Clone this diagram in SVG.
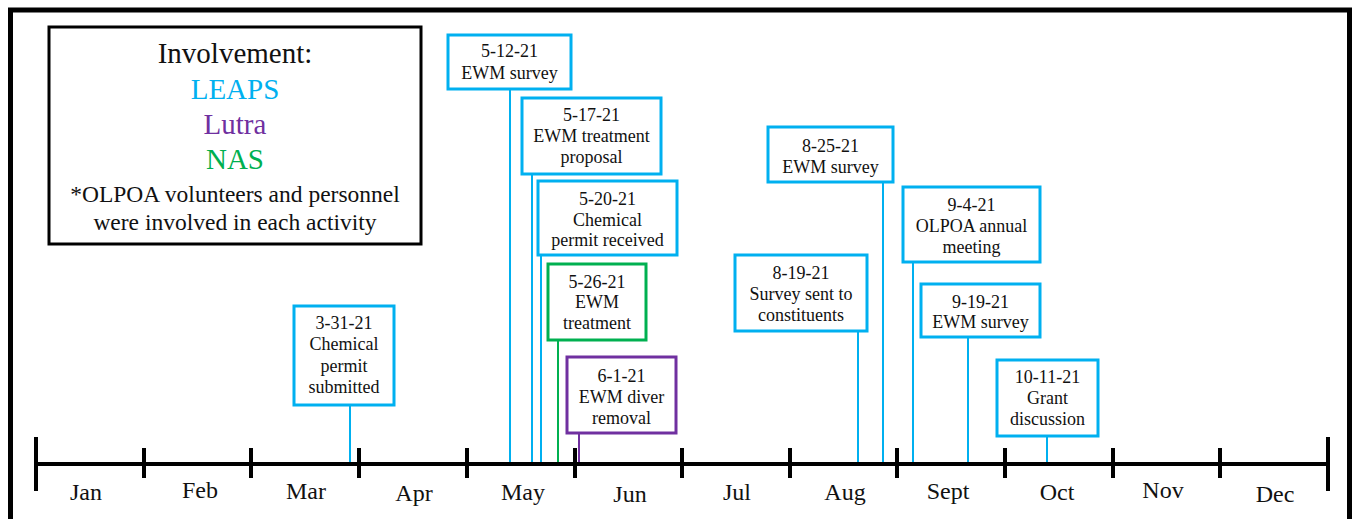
<svg xmlns="http://www.w3.org/2000/svg" width="1360" height="519" viewBox="0 0 1360 519">
<style>
.b{font-family:'Liberation Serif', serif;font-size:18px;text-anchor:middle;fill:#111}
.m{font-family:'Liberation Serif', serif;font-size:24px;text-anchor:middle;fill:#111}
.l{font-family:'Liberation Serif', serif;font-size:29px;text-anchor:middle;fill:#111}
.s{font-family:'Liberation Serif', serif;font-size:23.5px;text-anchor:middle;fill:#111}
.box{fill:#fff;stroke-width:3}
.blue{stroke:#00B0F0}
.green{stroke:#00B050}
.purple{stroke:#7030A0}
.cl{stroke-width:2}
.axis{stroke:#000;stroke-width:4;fill:none}
</style>
<rect width="1360" height="519" fill="#fff"/>
<path d="M10.5 530 V10 H1349.5 V530" fill="none" stroke="#000" stroke-width="5"/>
<g id="legend" font-family="Liberation Serif, serif">
<rect x="49" y="27" width="372" height="217" fill="#fff" stroke="#000" stroke-width="3"/>
<text class="l" x="235" y="63">Involvement:</text>
<text class="l" x="235" y="99" fill="#00B0F0" style="fill:#00B0F0">LEAPS</text>
<text class="l" x="235" y="134" fill="#7030A0" style="fill:#7030A0">Lutra</text>
<text class="l" x="235" y="169" fill="#00B050" style="fill:#00B050">NAS</text>
<text class="s" x="235" y="202">*OLPOA volunteers and personnel</text>
<text class="s" x="235" y="230">were involved in each activity</text>
</g>
<g id="connectors">
<line x1="350" y1="405" x2="350" y2="464" class="cl blue"/>
<line x1="510" y1="89" x2="510" y2="464" class="cl blue"/>
<line x1="532" y1="174" x2="532" y2="464" class="cl blue"/>
<line x1="541" y1="255" x2="541" y2="464" class="cl blue"/>
<line x1="558" y1="340" x2="558" y2="464" class="cl green"/>
<line x1="579" y1="433" x2="579" y2="464" class="cl purple"/>
<line x1="858" y1="331" x2="858" y2="464" class="cl blue"/>
<line x1="883" y1="182" x2="883" y2="466" class="cl blue"/>
<line x1="913" y1="262" x2="913" y2="464" class="cl blue"/>
<line x1="968" y1="337" x2="968" y2="464" class="cl blue"/>
<line x1="1047" y1="436" x2="1047" y2="464" class="cl blue"/>
</g>
<g id="axis" font-family="Liberation Serif, serif">
<line x1="36" y1="464" x2="1328" y2="464" class="axis"/>
<line x1="36" y1="437" x2="36" y2="491" class="axis"/>
<line x1="1328" y1="437" x2="1328" y2="491" class="axis"/>
<path class="axis" d="M144 448V478M251 448V478M359 448V478M467 448V478M575 448V478M682 448V478M790 448V478M897 448V478M1005 448V478M1113 448V478M1220 448V478"/>
<text class="m" x="86" y="500">Jan</text>
<text class="m" x="200" y="498">Feb</text>
<text class="m" x="306" y="499">Mar</text>
<text class="m" x="414" y="501">Apr</text>
<text class="m" x="523" y="500">May</text>
<text class="m" x="630" y="502">Jun</text>
<text class="m" x="737" y="500">Jul</text>
<text class="m" x="845" y="500">Aug</text>
<text class="m" x="948" y="499">Sept</text>
<text class="m" x="1057" y="500">Oct</text>
<text class="m" x="1163" y="498">Nov</text>
<text class="m" x="1275" y="502">Dec</text>
</g>
<g id="n-3-31" font-family="Liberation Serif, serif">
<rect class="box blue" x="294" y="306" width="100" height="99"/>
<text class="b" x="344" y="329">3-31-21</text>
<text class="b" x="344" y="350">Chemical</text>
<text class="b" x="344" y="372">permit</text>
<text class="b" x="344" y="393">submitted</text>
</g>
<g id="n-5-12" font-family="Liberation Serif, serif">
<rect class="box blue" x="448" y="35" width="123" height="54"/>
<text class="b" x="509.5" y="57">5-12-21</text>
<text class="b" x="509.5" y="79">EWM survey</text>
</g>
<g id="n-5-17" font-family="Liberation Serif, serif">
<rect class="box blue" x="522" y="98" width="139" height="76"/>
<text class="b" x="591.5" y="121">5-17-21</text>
<text class="b" x="591.5" y="142">EWM treatment</text>
<text class="b" x="591.5" y="163">proposal</text>
</g>
<g id="n-5-20" font-family="Liberation Serif, serif">
<rect class="box blue" x="538" y="181" width="139" height="74"/>
<text class="b" x="607.5" y="205">5-20-21</text>
<text class="b" x="607.5" y="226">Chemical</text>
<text class="b" x="607.5" y="246">permit received</text>
</g>
<g id="n-5-26" font-family="Liberation Serif, serif">
<rect class="box green" x="548" y="264" width="98" height="76"/>
<text class="b" x="597" y="288">5-26-21</text>
<text class="b" x="597" y="308">EWM</text>
<text class="b" x="597" y="329">treatment</text>
</g>
<g id="n-6-1" font-family="Liberation Serif, serif">
<rect class="box purple" x="567" y="357" width="109" height="76"/>
<text class="b" x="621.5" y="382">6-1-21</text>
<text class="b" x="621.5" y="403">EWM diver</text>
<text class="b" x="621.5" y="424">removal</text>
</g>
<g id="n-8-25" font-family="Liberation Serif, serif">
<rect class="box blue" x="768" y="127" width="125" height="55"/>
<text class="b" x="830.5" y="152">8-25-21</text>
<text class="b" x="830.5" y="173">EWM survey</text>
</g>
<g id="n-8-19" font-family="Liberation Serif, serif">
<rect class="box blue" x="735" y="255" width="132" height="76"/>
<text class="b" x="801" y="279">8-19-21</text>
<text class="b" x="801" y="300">Survey sent to</text>
<text class="b" x="801" y="321">constituents</text>
</g>
<g id="n-9-4" font-family="Liberation Serif, serif">
<rect class="box blue" x="903" y="187" width="137" height="75"/>
<text class="b" x="971.5" y="211">9-4-21</text>
<text class="b" x="971.5" y="232">OLPOA annual</text>
<text class="b" x="971.5" y="253">meeting</text>
</g>
<g id="n-9-19" font-family="Liberation Serif, serif">
<rect class="box blue" x="921" y="284" width="119" height="53"/>
<text class="b" x="980.5" y="308">9-19-21</text>
<text class="b" x="980.5" y="328">EWM survey</text>
</g>
<g id="n-10-11" font-family="Liberation Serif, serif">
<rect class="box blue" x="997" y="360" width="101" height="76"/>
<text class="b" x="1047.5" y="383">10-11-21</text>
<text class="b" x="1047.5" y="404">Grant</text>
<text class="b" x="1047.5" y="425">discussion</text>
</g>
</svg>
